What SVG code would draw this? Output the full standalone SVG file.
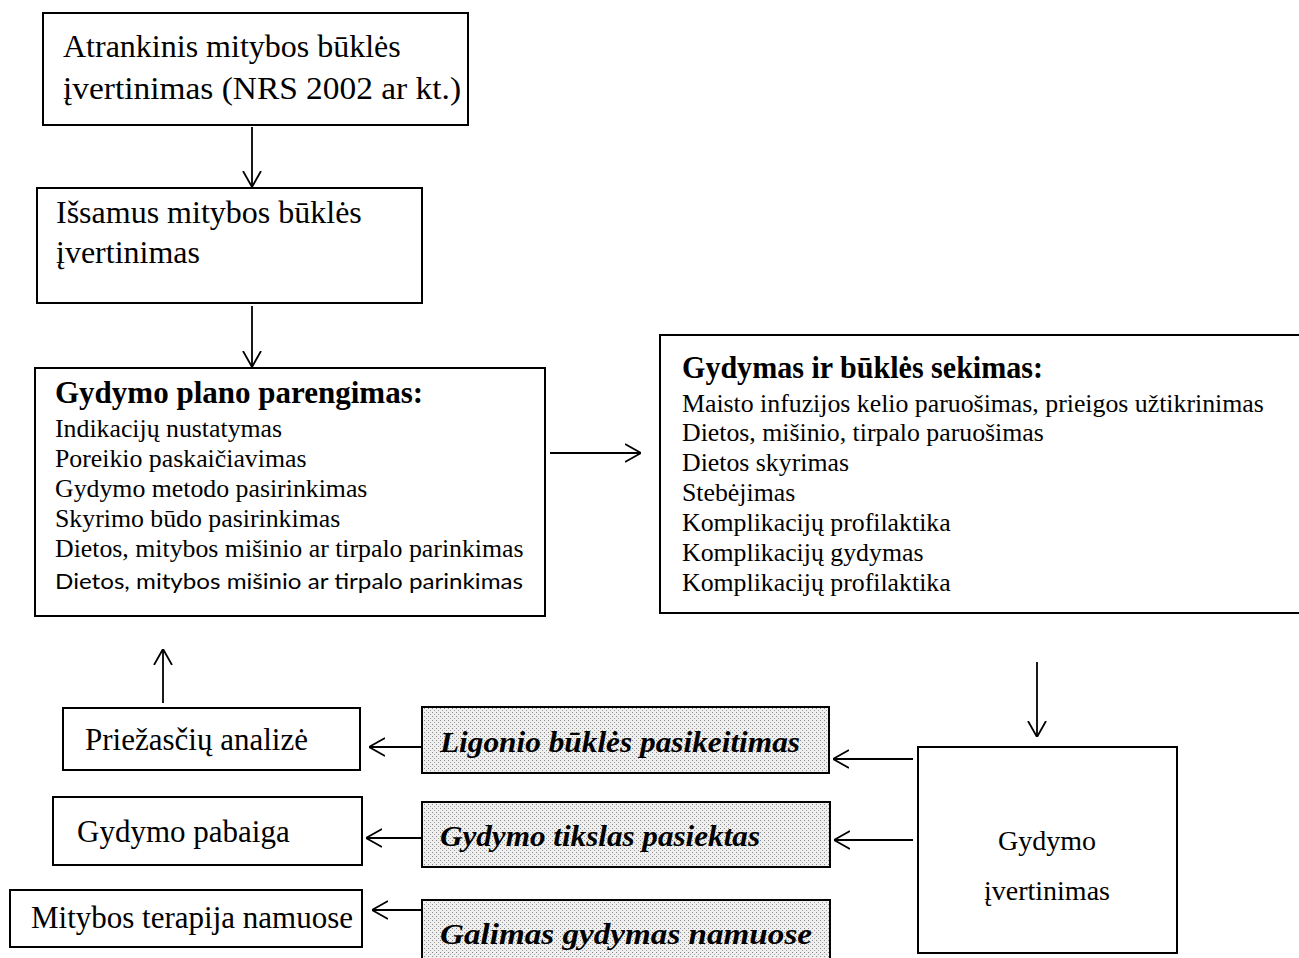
<svg xmlns="http://www.w3.org/2000/svg" width="1299" height="958" viewBox="0 0 1299 958">
<style>
  .box { fill: #ffffff; stroke: #000000; stroke-width: 2; }
  .shade { fill: url(#dots); stroke: #000000; stroke-width: 2; }
  .t { font-family: "Liberation Serif", "Times New Roman", serif; fill: #000000; }
  .big { font-size: 32px; }
  .mid { font-size: 31px; }
  .list { font-size: 25.8px; }
  .title { font-size: 31px; font-weight: bold; }
  .bi { font-size: 30px; font-weight: bold; font-style: italic; }
  .sans { font-family: Lato, "Liberation Sans", sans-serif; font-size: 22px; fill: #000000; }
  .conn { stroke: #000000; stroke-width: 1.8; fill: none; marker-end: url(#arr); }
</style>
<defs>
  <pattern id="dots" width="4" height="4" patternUnits="userSpaceOnUse">
    <rect width="4" height="4" fill="#efefef"/>
    <rect x="0" y="0" width="1" height="1" fill="#8a8a8a"/>
    <rect x="2" y="2" width="1" height="1" fill="#a0a0a0"/>
  </pattern>
  <marker id="arr" viewBox="0 0 16 20" refX="16" refY="10" markerWidth="16" markerHeight="20" markerUnits="userSpaceOnUse" orient="auto">
    <path d="M0,1 L16,10 L0,19" fill="none" stroke="#000000" stroke-width="1.8"/>
  </marker>
</defs>
<rect width="1299" height="958" fill="#ffffff"/>

<g id="connectors">
  <line class="conn" x1="252" y1="127" x2="252" y2="187"/>
  <line class="conn" x1="252" y1="306" x2="252" y2="367"/>
  <line class="conn" x1="550" y1="453" x2="641" y2="453"/>
  <line class="conn" x1="1037" y1="662" x2="1037" y2="737"/>
  <line class="conn" x1="913" y1="759" x2="833" y2="759"/>
  <line class="conn" x1="913" y1="840" x2="834" y2="840"/>
  <line class="conn" x1="422" y1="747" x2="369" y2="747"/>
  <line class="conn" x1="422" y1="838" x2="366" y2="838"/>
  <line class="conn" x1="422" y1="910" x2="372" y2="910"/>
  <line class="conn" x1="163" y1="703" x2="163" y2="649"/>
</g>

<g id="n-atrankinis">
  <rect class="box" x="43" y="13" width="425" height="112"/>
  <text class="t big" x="63" y="57">Atrankinis mitybos būklės</text>
  <text class="t big" x="63" y="99" textLength="398" lengthAdjust="spacingAndGlyphs">įvertinimas (NRS 2002 ar kt.)</text>
</g>

<g id="n-issamus">
  <rect class="box" x="37" y="188" width="385" height="115"/>
  <text class="t big" x="56" y="223">Išsamus mitybos būklės</text>
  <text class="t big" x="56" y="263">įvertinimas</text>
</g>

<g id="n-planas">
  <rect class="box" x="35" y="368" width="510" height="248"/>
  <text class="t title" x="55" y="403">Gydymo plano parengimas:</text>
  <text class="t list" x="55" y="437">Indikacijų nustatymas</text>
  <text class="t list" x="55" y="467">Poreikio paskaičiavimas</text>
  <text class="t list" x="55" y="497">Gydymo metodo pasirinkimas</text>
  <text class="t list" x="55" y="527">Skyrimo būdo pasirinkimas</text>
  <text class="t list" x="55" y="557">Dietos, mitybos mišinio ar tirpalo parinkimas</text>
  <text class="sans" x="55" y="589" textLength="468" lengthAdjust="spacingAndGlyphs">Dietos, mitybos mišinio ar tirpalo parinkimas</text>
</g>

<g id="n-gydymas">
  <rect class="box" x="660" y="335" width="660" height="278"/>
  <text class="t title" x="682" y="378" textLength="361" lengthAdjust="spacingAndGlyphs">Gydymas ir būklės sekimas:</text>
  <text class="t list" x="682" y="412">Maisto infuzijos kelio paruošimas, prieigos užtikrinimas</text>
  <text class="t list" x="682" y="441">Dietos, mišinio, tirpalo paruošimas</text>
  <text class="t list" x="682" y="471">Dietos skyrimas</text>
  <text class="t list" x="682" y="501">Stebėjimas</text>
  <text class="t list" x="682" y="531">Komplikacijų profilaktika</text>
  <text class="t list" x="682" y="561">Komplikacijų gydymas</text>
  <text class="t list" x="682" y="591">Komplikacijų profilaktika</text>
</g>

<g id="n-ivertinimas">
  <rect class="box" x="918" y="747" width="259" height="206"/>
  <text class="t" x="1047" y="850" font-size="28" text-anchor="middle">Gydymo</text>
  <text class="t" x="1047" y="900" font-size="28" text-anchor="middle">įvertinimas</text>
</g>

<g id="n-ligonio">
  <rect class="shade" x="422" y="707" width="407" height="66"/>
  <text class="t bi" x="440" y="752" textLength="360" lengthAdjust="spacingAndGlyphs">Ligonio būklės pasikeitimas</text>
</g>

<g id="n-tikslas">
  <rect class="shade" x="422" y="802" width="408" height="65"/>
  <text class="t bi" x="440" y="846" textLength="320" lengthAdjust="spacingAndGlyphs">Gydymo tikslas pasiektas</text>
</g>

<g id="n-galimas">
  <rect class="shade" x="422" y="900" width="408" height="70"/>
  <text class="t bi" x="440" y="944" textLength="372" lengthAdjust="spacingAndGlyphs">Galimas gydymas namuose</text>
</g>

<g id="n-priezasciu">
  <rect class="box" x="63" y="708" width="297" height="62"/>
  <text class="t mid" x="85" y="750">Priežasčių analizė</text>
</g>

<g id="n-pabaiga">
  <rect class="box" x="53" y="797" width="309" height="68"/>
  <text class="t mid" x="77" y="842">Gydymo pabaiga</text>
</g>

<g id="n-namuose">
  <rect class="box" x="10" y="890" width="352" height="57"/>
  <text class="t mid" x="31" y="928">Mitybos terapija namuose</text>
</g>
</svg>
